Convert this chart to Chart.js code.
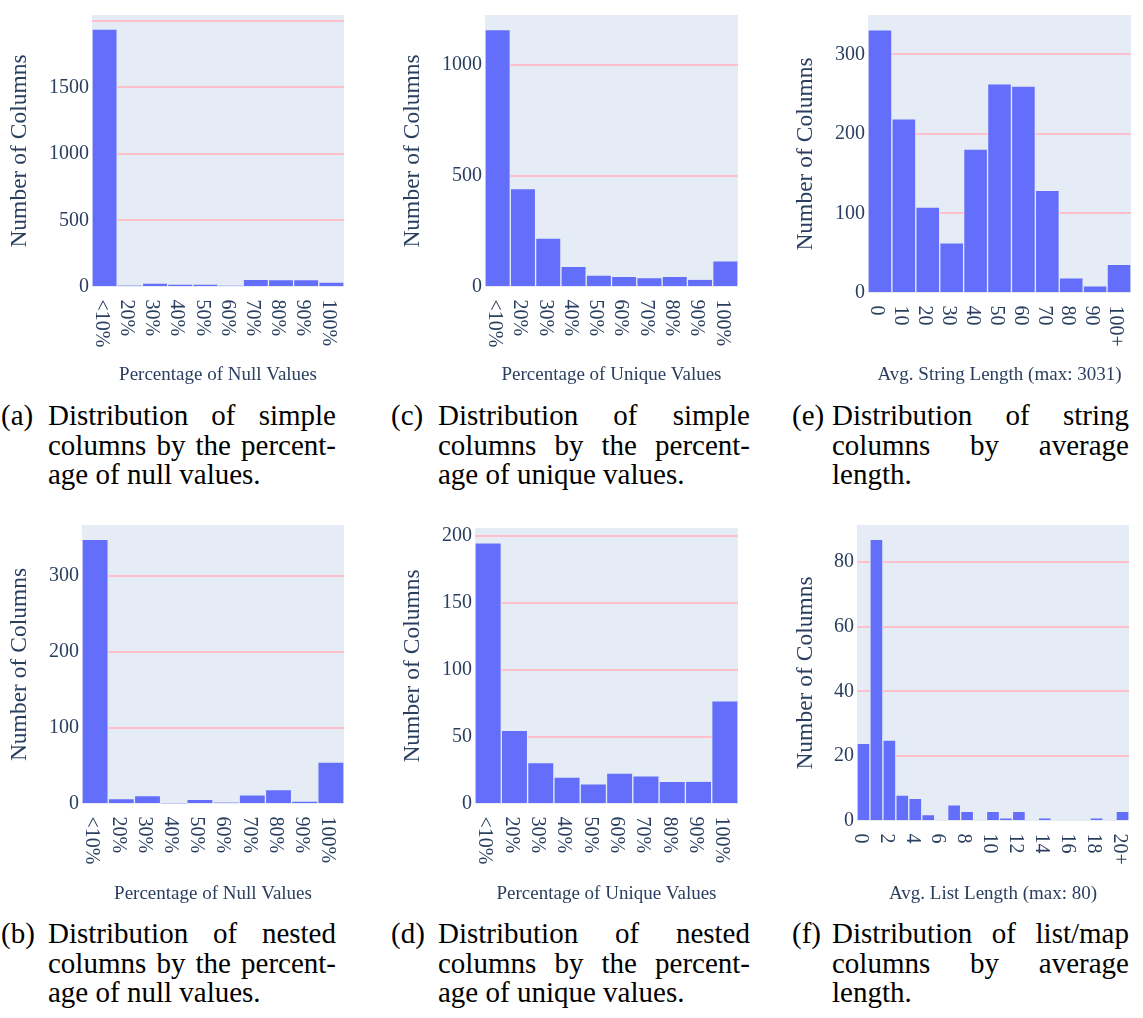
<!DOCTYPE html>
<html>
<head>
<meta charset="utf-8">
<script src="https://cdn.jsdelivr.net/npm/chart.js@4.4.1/dist/chart.umd.min.js"></script>
<style>
    body { margin: 0; background: #fff; }
    #page { position: relative; width: 1143px; height: 1018px; overflow: hidden; }
    .panel { position: absolute; }
    .cap { position: absolute; font-family: "Liberation Serif", serif; font-size: 29px; line-height: 29.5px; color: #000; }
    .cap .lab { position: absolute; left: 0; top: 0; }
    .cap .ln { text-align: justify; text-align-last: justify; white-space: nowrap; }
    .cap .ln.last { text-align: left; text-align-last: left; }
</style>
</head>
<body>
<div id="page">
    <div class="panel" id="pa" style="left:6px;top:0px;width:338px;height:386px"><canvas id="chartNullSimple"></canvas></div>
    <div class="panel" id="pc" style="left:399px;top:0px;width:339px;height:386px"><canvas id="chartUniqueSimple"></canvas></div>
    <div class="panel" id="pe" style="left:792px;top:0px;width:339px;height:386px"><canvas id="chartStrLen"></canvas></div>
    <div class="panel" id="pb" style="left:6px;top:510px;width:338px;height:395px"><canvas id="chartNullNested"></canvas></div>
    <div class="panel" id="pd" style="left:399px;top:510px;width:339px;height:395px"><canvas id="chartUniqueNested"></canvas></div>
    <div class="panel" id="pf" style="left:792px;top:510px;width:337px;height:395px"><canvas id="chartListLen"></canvas></div>

    <div class="cap" style="left:1px;top:401px;width:335px">
        <span class="lab">(a)</span>
        <div style="margin-left:47px">
            <div class="ln">Distribution of simple</div>
            <div class="ln">columns by the percent-</div>
            <div class="ln last">age of null values.</div>
        </div>
    </div>
    <div class="cap" style="left:391px;top:401px;width:359px">
        <span class="lab">(c)</span>
        <div style="margin-left:47px">
            <div class="ln">Distribution of simple</div>
            <div class="ln">columns by the percent-</div>
            <div class="ln last">age of unique values.</div>
        </div>
    </div>
    <div class="cap" style="left:792px;top:401px;width:337px">
        <span class="lab">(e)</span>
        <div style="margin-left:40px">
            <div class="ln">Distribution of string</div>
            <div class="ln">columns by average</div>
            <div class="ln last">length.</div>
        </div>
    </div>
    <div class="cap" style="left:1px;top:919px;width:335px">
        <span class="lab">(b)</span>
        <div style="margin-left:47px">
            <div class="ln">Distribution of nested</div>
            <div class="ln">columns by the percent-</div>
            <div class="ln last">age of null values.</div>
        </div>
    </div>
    <div class="cap" style="left:391px;top:919px;width:359px">
        <span class="lab">(d)</span>
        <div style="margin-left:47px">
            <div class="ln">Distribution of nested</div>
            <div class="ln">columns by the percent-</div>
            <div class="ln last">age of unique values.</div>
        </div>
    </div>
    <div class="cap" style="left:792px;top:919px;width:337px">
        <span class="lab">(f)</span>
        <div style="margin-left:40px">
            <div class="ln">Distribution of list/map</div>
            <div class="ln">columns by average</div>
            <div class="ln last">length.</div>
        </div>
    </div>
</div>

<script>
// Catégories et étiquettes des axes
const pctLabels = ['<10%', '20%', '30%', '40%', '50%', '60%', '70%', '80%', '90%', '100%'];
const strLenLabels = ['0', '10', '20', '30', '40', '50', '60', '70', '80', '90', '100+'];
const listLenLabels = ['0', '', '2', '', '4', '', '6', '', '8', '', '10', '', '12', '', '14', '', '16', '', '18', '', '20+'];

// Nombre de colonnes par classe
const nullSimple = [1940, 10, 30, 20, 22, 9, 57, 55, 55, 37];
const uniqueSimple = [1159, 443, 220, 93, 54, 48, 42, 48, 35, 118];
const strLen = [331, 219, 108, 63, 181, 263, 260, 129, 19, 9, 36];
const nullNested = [348, 7, 11, 1, 6, 2, 12, 19, 4, 55];
const uniqueNested = [195, 55, 31, 20, 15, 23, 21, 17, 17, 77];
const listLen = [24, 87, 25, 8, 7, 2, 0, 5, 3, 0, 3, 1, 3, 0, 1, 0, 0, 0, 1, 0, 3];

const textColor = '#2a3f5f';
Chart.defaults.font.family = '"Liberation Serif", "Times New Roman", serif';
Chart.defaults.color = textColor;

// Fond du graphique + étiquettes de l'axe x tournées dans le sens horaire
const plotlyLook = {
    id: 'plotlyLook',
    beforeDraw(chart) {
        const a = chart.chartArea;
        const ctx = chart.ctx;
        ctx.save();
        ctx.fillStyle = '#e5ecf6';
        ctx.fillRect(a.left, a.top, a.right - a.left, a.bottom - a.top);
        ctx.restore();
    },
    afterDraw(chart, args, opts) {
        const x = chart.scales.x;
        const ctx = chart.ctx;
        ctx.save();
        ctx.font = '20px "Liberation Serif", serif';
        ctx.fillStyle = textColor;
        ctx.textAlign = 'left';
        ctx.textBaseline = 'middle';
        (opts.labels || []).forEach((t, i) => {
            if (!t) return;
            ctx.save();
            ctx.translate(x.getPixelForValue(i) - 3.5, chart.chartArea.bottom + 12.5);
            ctx.rotate(Math.PI / 2);
            ctx.fillText(t, 0, 0);
            ctx.restore();
        });
        ctx.restore();
    }
};

function makeHist(id, labels, values, xTitle, yMax, step, cfg) {
    return new Chart(document.getElementById(id), {
        type: 'bar',
        plugins: [plotlyLook],
        data: {
            labels: labels,
            datasets: [{
                data: values,
                backgroundColor: '#636efa',
                borderColor: 'rgba(229,236,246,0.85)',
                borderWidth: 1,
                barPercentage: 1,
                categoryPercentage: 1
            }]
        },
        options: {
            animation: false,
            responsive: true,
            maintainAspectRatio: false,
            layout: { padding: { top: cfg.padTop, left: 0, right: 0, bottom: 0 } },
            plugins: {
                legend: { display: false },
                tooltip: { enabled: false },
                plotlyLook: { labels: labels }
            },
            scales: {
                x: {
                    grid: { display: false },
                    border: { display: false },
                    ticks: { display: false },
                    title: { display: true, text: xTitle, color: textColor, font: { size: 19 }, padding: 0 },
                    afterFit: (s) => { s.width = s.width; s.height = cfg.xh; }
                },
                y: {
                    min: 0,
                    max: yMax,
                    border: { display: false },
                    grid: {
                        drawTicks: false,
                        lineWidth: 2,
                        color: (c) => (c.tick && c.tick.value === 0) ? 'rgba(0,0,0,0)' : '#ffc0cb'
                    },
                    ticks: {
                        padding: 3,
                        color: textColor,
                        font: { size: 20 },
                        callback: (v) => (v > cfg.maxLabel ? '' : String(v))
                    },
                    // graduations tous les "step", sans la borne du haut
                    afterBuildTicks: (s) => {
                        const t = [];
                        for (let v = 0; v <= yMax; v += step) t.push({ value: v });
                        s.ticks = t;
                    },
                    title: { display: true, text: 'Number of Columns', color: textColor, font: { size: 23.5 }, padding: 0 },
                    afterFit: (s) => { s.width = cfg.yw; }
                }
            }
        }
    });
}

makeHist('chartNullSimple', pctLabels, nullSimple, 'Percentage of Null Values', 2045, 500, { padTop: 10, xh: 99, yw: 86, maxLabel: 1500 });
makeHist('chartUniqueSimple', pctLabels, uniqueSimple, 'Percentage of Unique Values', 1225, 500, { padTop: 7, xh: 99, yw: 86, maxLabel: Infinity });
makeHist('chartStrLen', strLenLabels, strLen, 'Avg. String Length (max: 3031)', 349.5, 100, { padTop: 7, xh: 93, yw: 76, maxLabel: Infinity });
makeHist('chartNullNested', pctLabels, nullNested, 'Percentage of Null Values', 367, 100, { padTop: 15, xh: 101, yw: 76, maxLabel: Infinity });
makeHist('chartUniqueNested', pctLabels, uniqueNested, 'Percentage of Unique Values', 206, 50, { padTop: 18, xh: 101, yw: 76, maxLabel: Infinity });
makeHist('chartListLen', listLenLabels, listLen, 'Avg. List Length (max: 80)', 91.4, 20, { padTop: 15, xh: 84, yw: 65, maxLabel: Infinity });
</script>
</body>
</html>
